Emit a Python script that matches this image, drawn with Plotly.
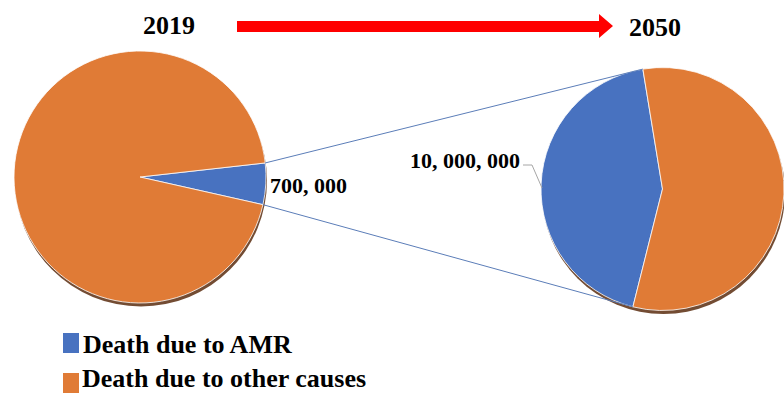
import math
import plotly.graph_objects as go

# ---- data ----
years = ["2019", "2050"]
categories = ["Death due to AMR", "Death due to other causes"]
amr_labels = ["700, 000", "10, 000, 000"]
amr_share = [5.3, 43.5]      # share of the pie drawn for AMR deaths (%)
other_share = [94.7, 56.5]   # share of the pie drawn for other causes (%)

# ---- style / layout ----
W, H = 784, 394
BLUE = "#4872C0"
ORANGE = "#E07B36"
SERIF = "Liberation Serif, Times New Roman, serif"

# pie geometry in pixels: (left, top, right, bottom), start angle
pie_boxes = [(14, 51, 266, 303), (541, 67, 784, 311)]
rotations = [83.6, 194.1]

fig = go.Figure()
shapes = []
annotations = []

geo = []
for i in range(2):
    l, t, r, b = pie_boxes[i]
    fig.add_trace(go.Pie(
        values=[amr_share[i], other_share[i]],
        labels=categories,
        marker=dict(colors=[BLUE, ORANGE], line=dict(color="rgba(255,255,255,0.8)", width=1)),
        sort=False, direction="clockwise", rotation=rotations[i],
        textinfo="none", hoverinfo="skip", showlegend=False,
        domain=dict(x=[l / W, r / W], y=[1 - b / H, 1 - t / H]),
    ))
    cx, cy = (l + r) / 2, (t + b) / 2
    rad = min(r - l, b - t) / 2
    geo.append((cx, cy, rad))
    # shadow under the pie
    shapes.append(dict(type="circle", xref="x", yref="y", layer="below",
                       x0=cx - rad + 1, x1=cx + rad + 1, y0=cy - rad + 3.5, y1=cy + rad + 3.5,
                       fillcolor="rgba(90,45,15,0.85)", line=dict(width=0)))


def edge(g, ang):
    cx, cy, rad = g
    a = math.radians(ang)
    return cx + rad * math.sin(a), cy - rad * math.cos(a)


# connector lines from the small AMR slice to the big AMR slice
a_start = [rotations[i] for i in range(2)]
a_end = [rotations[i] + 360 * amr_share[i] / 100 for i in range(2)]
p1 = edge(geo[0], a_start[0]); q1 = edge(geo[1], a_end[1])
p2 = edge(geo[0], a_end[0]); q2 = edge(geo[1], a_start[1])
for p, q in [(p1, q1), (p2, q2)]:
    shapes.append(dict(type="line", xref="x", yref="y", x0=p[0], y0=p[1], x1=q[0], y1=q[1],
                       line=dict(color="#5B7DB8", width=1)))

# red arrow 2019 -> 2050
shapes.append(dict(type="path", xref="x", yref="y",
                   path="M237,21 L599,21 L599,14 L613,26 L599,38 L599,32 L237,32 Z",
                   fillcolor="#FF0000", line=dict(width=0)))

# year titles
annotations.append(dict(x=169, y=25, text="<b>%s</b>" % years[0], showarrow=False,
                        font=dict(family=SERIF, size=26, color="black"), xref="x", yref="y"))
annotations.append(dict(x=655, y=27, text="<b>%s</b>" % years[1], showarrow=False,
                        font=dict(family=SERIF, size=26, color="black"), xref="x", yref="y"))

# value labels
annotations.append(dict(x=268, y=185, text="<b>%s</b>" % amr_labels[0], showarrow=False,
                        xanchor="left", font=dict(family=SERIF, size=22, color="black"),
                        xref="x", yref="y"))
annotations.append(dict(x=522, y=160, text="<b>%s</b>" % amr_labels[1], showarrow=False,
                        xanchor="right", font=dict(family=SERIF, size=22, color="black"),
                        xref="x", yref="y"))
shapes.append(dict(type="path", xref="x", yref="y", path="M523,165 L532,165 L542,188",
                   line=dict(color="#A6A6A6", width=1)))

# legend
legend_y = [343, 383]
for k, (cat, col) in enumerate(zip(categories, [BLUE, ORANGE])):
    shapes.append(dict(type="rect", xref="x", yref="y", x0=63, x1=79,
                       y0=legend_y[k] - 10, y1=legend_y[k] + 10,
                       fillcolor=col, line=dict(width=0)))
    if k == 0:
        annotations.append(dict(x=81, y=legend_y[k] + 1, text="<b>%s</b>" % cat, showarrow=False,
                                xanchor="left", font=dict(family=SERIF, size=26, color="black"),
                                xref="x", yref="y"))
    else:
        annotations.append(dict(x=81, y=H, text="<b>%s</b>" % cat, showarrow=False,
                                xanchor="left", yanchor="bottom", borderpad=0,
                                font=dict(family=SERIF, size=26, color="black"),
                                xref="x", yref="y"))

fig.update_layout(
    width=W, height=H, margin=dict(l=0, r=0, t=0, b=0),
    paper_bgcolor="white", plot_bgcolor="white",
    xaxis=dict(range=[0, W], visible=False, domain=[0, 1], fixedrange=True),
    yaxis=dict(range=[H, 0], visible=False, domain=[0, 1], fixedrange=True),
    shapes=shapes, annotations=annotations, showlegend=False,
)
fig.write_html("out.html")
